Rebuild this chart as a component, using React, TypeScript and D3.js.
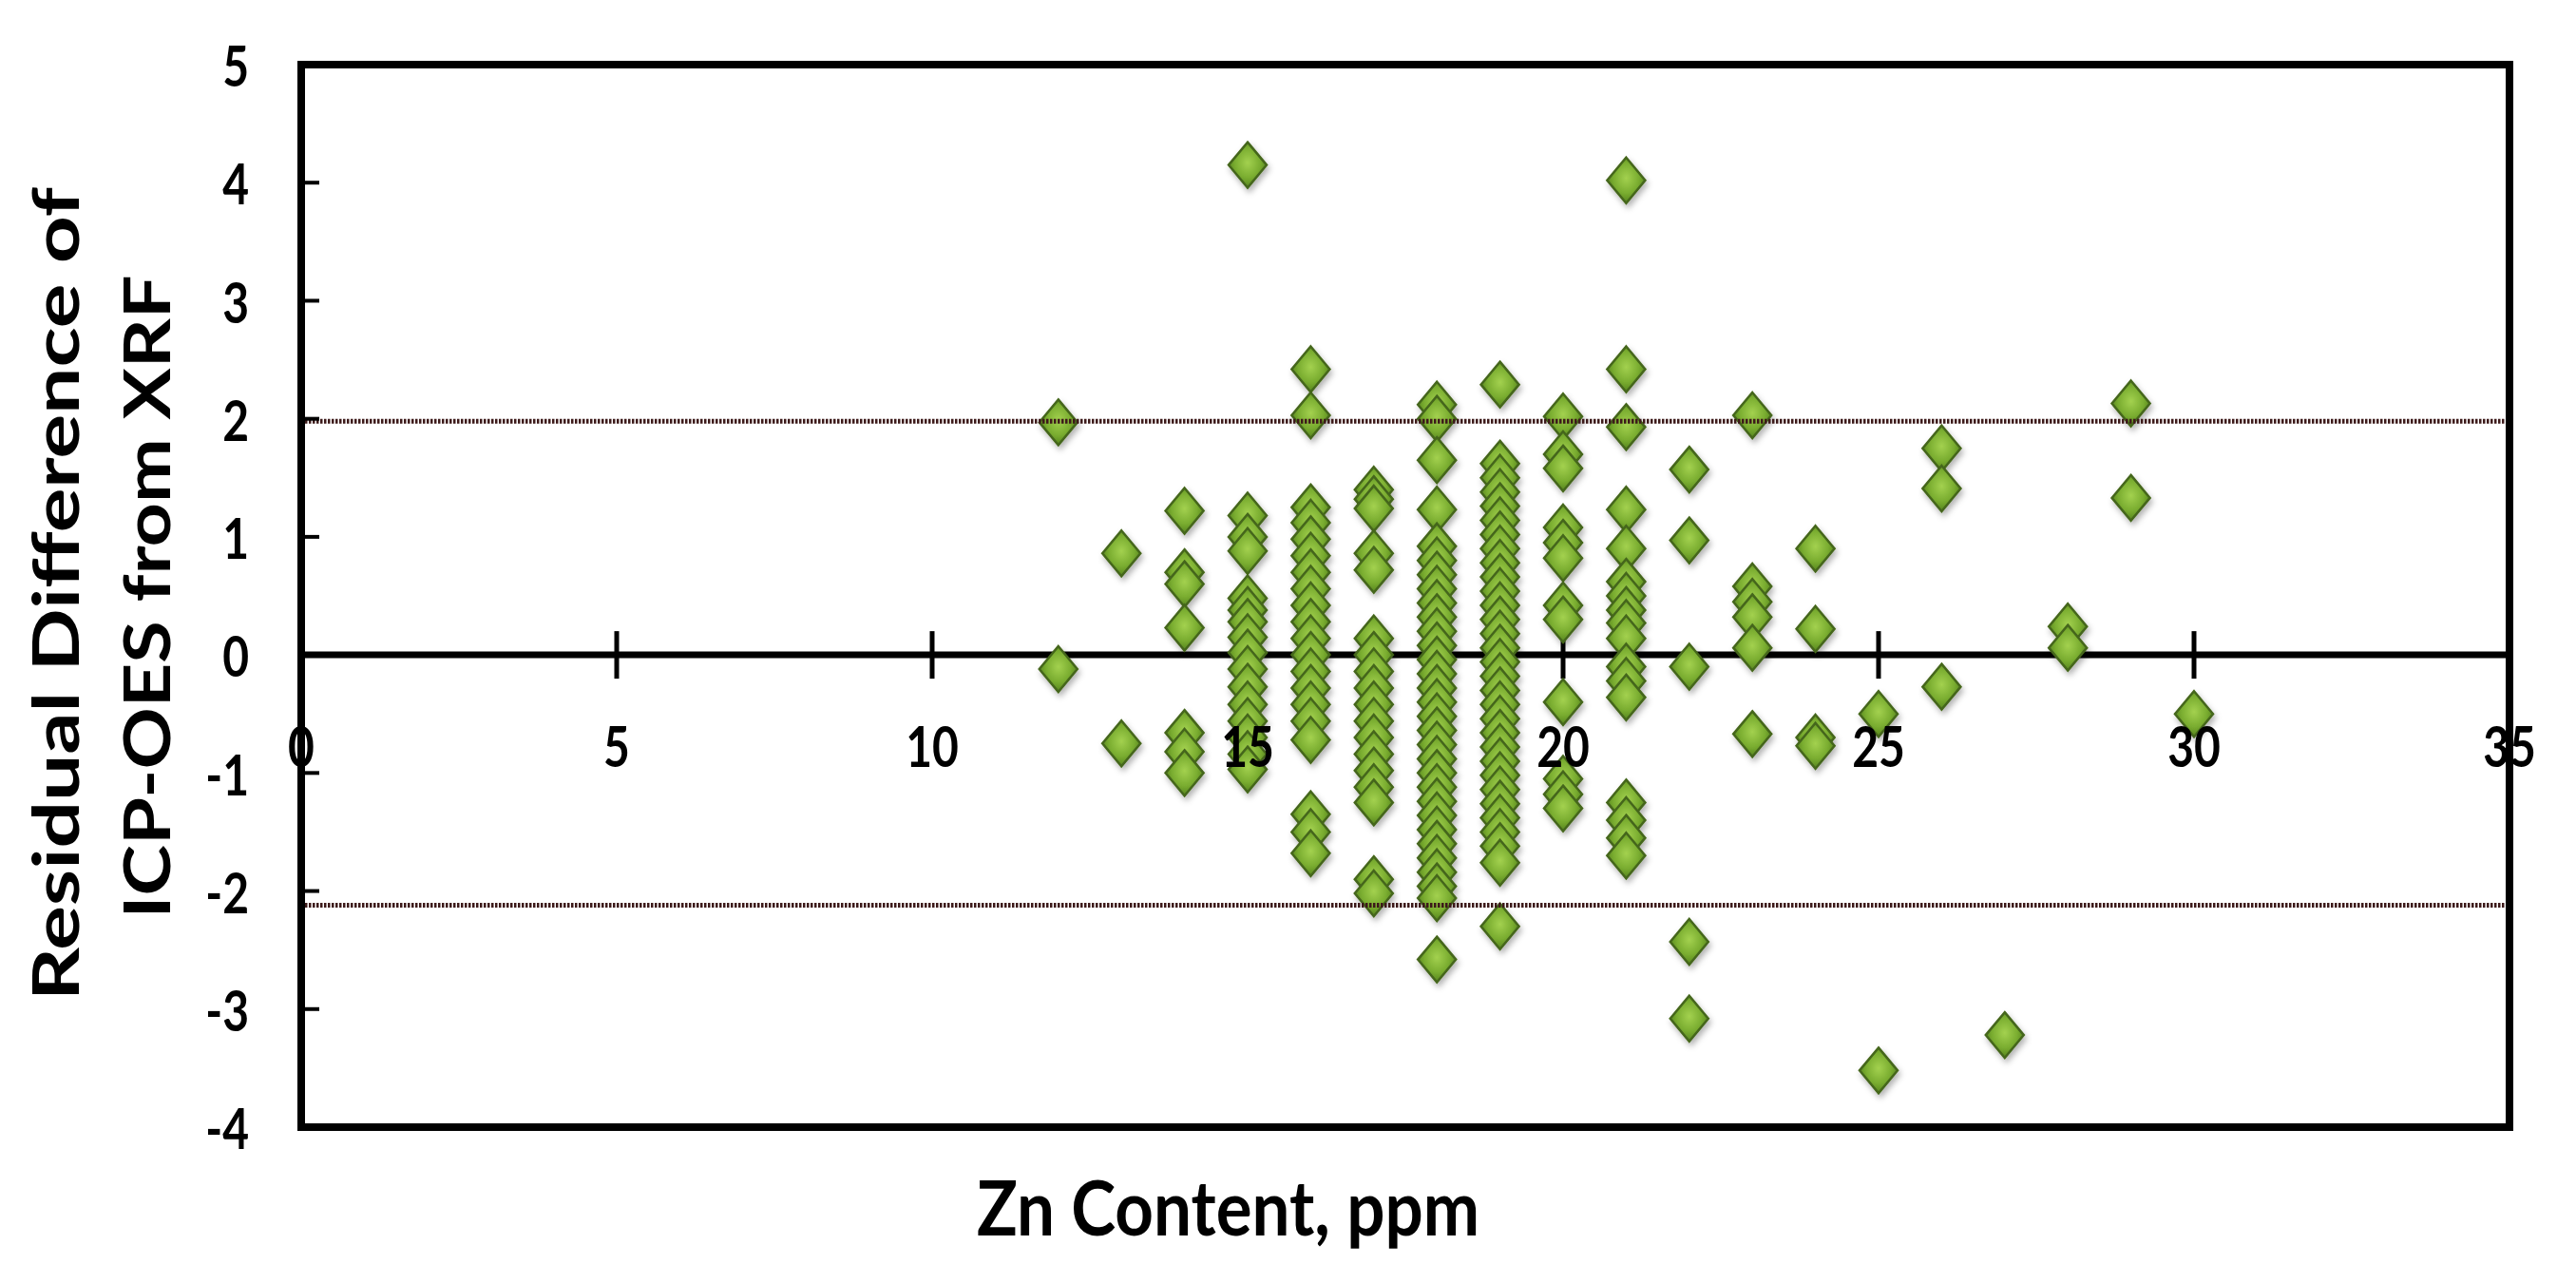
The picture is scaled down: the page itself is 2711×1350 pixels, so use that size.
import * as d3 from 'd3'

// Zn content levels (ppm) and the residuals read at each level
const znLevels = [12, 13, 14, 15, 16, 17, 18, 19, 20, 21, 22, 23, 24, 25, 26, 27, 28, 29, 30]

const residuals: number[][] = [
    [1.97, -0.12], // 12
    [0.86, -0.75], // 13
    [1.22, 0.7, 0.6, 0.23, -0.66, -0.82, -1.0], // 14
    [4.15, 1.18, 1.0, 0.88, 0.48, 0.38, 0.28, 0.15, 0.02, -0.12, -0.27, -0.42, -0.56, -0.7, -0.84, -0.97], // 15
    [2.42, 2.03, 1.25, 1.12, 0.98, 0.84, 0.7, 0.56, 0.42, 0.28, 0.14, 0.0, -0.14, -0.28, -0.42, -0.56, -0.72, -1.35, -1.5, -1.68], // 16
    [1.4, 1.32, 1.24, 0.86, 0.72, 0.14, 0.0, -0.14, -0.28, -0.42, -0.56, -0.7, -0.84, -0.98, -1.12, -1.25, -1.9, -2.02], // 17
    [2.12, 2.0, 1.65, 1.23, 0.92, 0.8, 0.68, 0.56, 0.44, 0.32, 0.2, 0.08, -0.04, -0.16, -0.28, -0.4, -0.52, -0.64, -0.76, -0.88, -1.0, -1.12, -1.24, -1.36, -1.48, -1.6, -1.72, -1.84, -1.96, -2.06, -2.58], // 18
    [2.29, 1.62, 1.5, 1.38, 1.26, 1.14, 1.02, 0.9, 0.78, 0.66, 0.54, 0.42, 0.3, 0.18, 0.06, -0.06, -0.18, -0.3, -0.42, -0.54, -0.66, -0.78, -0.9, -1.02, -1.14, -1.26, -1.38, -1.5, -1.62, -1.76, -2.3], // 19
    [2.02, 1.7, 1.58, 1.08, 0.95, 0.82, 0.42, 0.3, -0.4, -1.05, -1.18, -1.3], // 20
    [4.02, 2.42, 1.93, 1.23, 0.9, 0.62, 0.5, 0.38, 0.27, 0.14, -0.1, -0.22, -0.36, -1.25, -1.4, -1.55, -1.7], // 21
    [1.57, 0.97, -0.1, -2.43, -3.08], // 22
    [2.03, 0.58, 0.45, 0.32, 0.06, -0.67], // 23
    [0.9, 0.22, -0.7, -0.77], // 24
    [-0.5, -3.52], // 25
    [1.75, 1.41, -0.27], // 26
    [-3.22], // 27
    [0.24, 0.06], // 28
    [2.13, 1.33], // 29
    [-0.5], // 30
]

// dotted limit lines (upper / lower)
const limitLines = [1.98, -2.12]

const xTicks = [0, 5, 10, 15, 20, 25, 30, 35]
const yTicks = [-4, -3, -2, -1, 0, 1, 2, 3, 4, 5]

const yTitle = ['Residual Difference of', 'ICP-OES from XRF']
const xTitle = 'Zn Content, ppm'

const W = 2711
const H = 1350
const left = 317
const right = 2641
const top = 68
const bottom = 1186
const font = "Lato, 'Open Sans', sans-serif"

function App() {
    const x = d3.scaleLinear().domain([0, 35]).range([left, right])
    const y = d3.scaleLinear().domain([-4, 5]).range([bottom, top])

    const points = znLevels.flatMap((zn, i) =>
        residuals[i].map((r) => ({ zn, r }))
    )

    const hw = 20
    const hh = 24
    const diamond = `M0,${-hh}L${hw},0L0,${hh}L${-hw},0Z`

    return (
        <svg
            width={W}
            height={H}
            style={{ position: 'absolute', left: 0, top: 0, display: 'block', background: '#fff' }}
        >
            <defs>
                <radialGradient id="gem" cx="50%" cy="45%" r="60%">
                    <stop offset="0%" stopColor="#a3d14f" />
                    <stop offset="55%" stopColor="#7aad30" />
                    <stop offset="100%" stopColor="#4c7a1a" />
                </radialGradient>
                <filter id="shade" x="-50%" y="-50%" width="200%" height="200%">
                    <feDropShadow dx="2" dy="4" stdDeviation="3" floodColor="#000" floodOpacity="0.3" />
                </filter>
            </defs>

            {/* zero line */}
            <line x1={left} x2={right} y1={y(0)} y2={y(0)} stroke="#000" strokeWidth={7} />
            {xTicks.slice(1, -1).map((t) => (
                <line key={'xt' + t} x1={x(t)} x2={x(t)} y1={y(0) - 25} y2={y(0) + 25} stroke="#000" strokeWidth={5} />
            ))}

            {/* markers */}
            <g filter="url(#shade)">
                {points.map((p, i) => (
                    <path
                        key={i}
                        d={diamond}
                        transform={`translate(${x(p.zn)},${y(p.r)})`}
                        fill="url(#gem)"
                        stroke="#44661a"
                        strokeWidth={2.5}
                    />
                ))}
            </g>

            {/* limit lines */}
            {limitLines.map((v) => (
                <line
                    key={'lim' + v}
                    x1={left}
                    x2={right}
                    y1={y(v)}
                    y2={y(v)}
                    stroke="#3d1a1a"
                    strokeWidth={5}
                    strokeDasharray="2.5 1.5"
                />
            ))}

            {/* frame */}
            <rect x={left} y={top} width={right - left} height={bottom - top} fill="none" stroke="#000" strokeWidth={8} />

            {/* y ticks + labels */}
            {yTicks.map((t) => (
                <g key={'y' + t}>
                    <line x1={left} x2={left + 19} y1={y(t)} y2={y(t)} stroke="#000" strokeWidth={4} />
                    <text
                        transform={`translate(262,${y(t)}) scale(0.8,1)`}
                        textAnchor="end"
                        dominantBaseline="central"
                        fontFamily={font}
                        fontWeight="bold"
                        fontSize={60}
                        fill="#000"
                    >
                        {t}
                    </text>
                </g>
            ))}

            {/* x labels */}
            {xTicks.map((t) => (
                <text
                    key={'x' + t}
                    transform={`translate(${x(t)},${y(0) + 95}) scale(0.8,1)`}
                    textAnchor="middle"
                    dominantBaseline="central"
                    fontFamily={font}
                    fontWeight="bold"
                    fontSize={60}
                    fill="#000"
                >
                    {t}
                </text>
            ))}

            {/* axis titles */}
            <text
                transform="translate(83,625) rotate(-90)"
                textAnchor="middle"
                fontFamily={font}
                fontWeight="bold"
                fontSize={66}
                textLength={856}
                lengthAdjust="spacingAndGlyphs"
            >
                {yTitle[0]}
            </text>
            <text
                transform="translate(179,628) rotate(-90)"
                textAnchor="middle"
                fontFamily={font}
                fontWeight="bold"
                fontSize={66}
                textLength={677}
                lengthAdjust="spacingAndGlyphs"
            >
                {yTitle[1]}
            </text>
            <text
                x={1028}
                y={1300}
                fontFamily={font}
                fontWeight="bold"
                fontSize={80}
                textLength={529}
                lengthAdjust="spacingAndGlyphs"
            >
                {xTitle}
            </text>
        </svg>
    )
}

export default App
